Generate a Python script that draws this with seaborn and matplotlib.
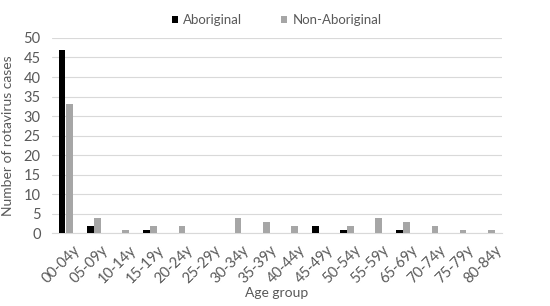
import pandas as pd
import matplotlib.pyplot as plt
import matplotlib.transforms as mtransforms
import seaborn as sns

# === Data ===
age_groups = ["00-04y", "05-09y", "10-14y", "15-19y", "20-24y", "25-29y", "30-34y", "35-39y",
              "40-44y", "45-49y", "50-54y", "55-59y", "65-69y", "70-74y", "75-79y", "80-84y"]
aboriginal = [47, 2, 0, 1, 0, 0, 0, 0, 0, 2, 1, 0, 1, 0, 0, 0]
non_aboriginal = [33, 4, 1, 2, 2, 0, 4, 3, 2, 0, 2, 4, 3, 2, 1, 1]

df = pd.DataFrame({"age": age_groups * 2,
                   "cases": aboriginal + non_aboriginal,
                   "group": ["Aboriginal"] * len(age_groups) + ["Non-Aboriginal"] * len(age_groups)})

# === Style ===
sns.set_style("white")
plt.rcParams["font.family"] = ["Lato", "DejaVu Sans"]
TXT = "#595959"

fig, ax = plt.subplots(figsize=(5.5, 3.06), dpi=100)
fig.subplots_adjust(left=0.094, right=0.912, top=0.876, bottom=0.237)

sns.barplot(data=df, x="age", y="cases", hue="group", order=age_groups,
            palette={"Aboriginal": "#000000", "Non-Aboriginal": "#a6a6a6"},
            width=0.52, gap=0.08, linewidth=0, ax=ax, zorder=3)

ax.set_ylim(0, 50)
ax.set_yticks(range(0, 51, 5))
ax.set_xlim(-0.5, len(age_groups) - 0.5)
ax.yaxis.grid(True, color="#d9d9d9", linewidth=0.8, zorder=0)
for s in ["top", "right", "left"]:
    ax.spines[s].set_visible(False)
ax.spines["bottom"].set_color("#d9d9d9")
ax.tick_params(axis="y", length=0, colors=TXT, labelsize=10.5, pad=8)
ax.tick_params(axis="x", length=0, colors=TXT, labelsize=10.5, pad=7)

# rotated labels, shifted a bit right like the original
shift = mtransforms.ScaledTranslation(5 / 72, 0, fig.dpi_scale_trans)
for lab in ax.get_xticklabels():
    lab.set_rotation(45)
    lab.set_ha("right")
    lab.set_rotation_mode("anchor")
    lab.set_transform(lab.get_transform() + shift)

ax.set_xlabel("Age group", color=TXT, fontsize=10)
ax.xaxis.set_label_coords(0.5, -0.275)
ax.set_ylabel("Number of rotavirus cases", color=TXT, fontsize=10, labelpad=7)

leg = ax.legend(loc="lower center", bbox_to_anchor=(0.5, 1.0), ncol=2, frameon=False,
                fontsize=9.5, handlelength=0.5, handleheight=0.5, handletextpad=0.4,
                columnspacing=2.9)
for t in leg.get_texts():
    t.set_color(TXT)

fig.savefig("out.png", dpi=100)
